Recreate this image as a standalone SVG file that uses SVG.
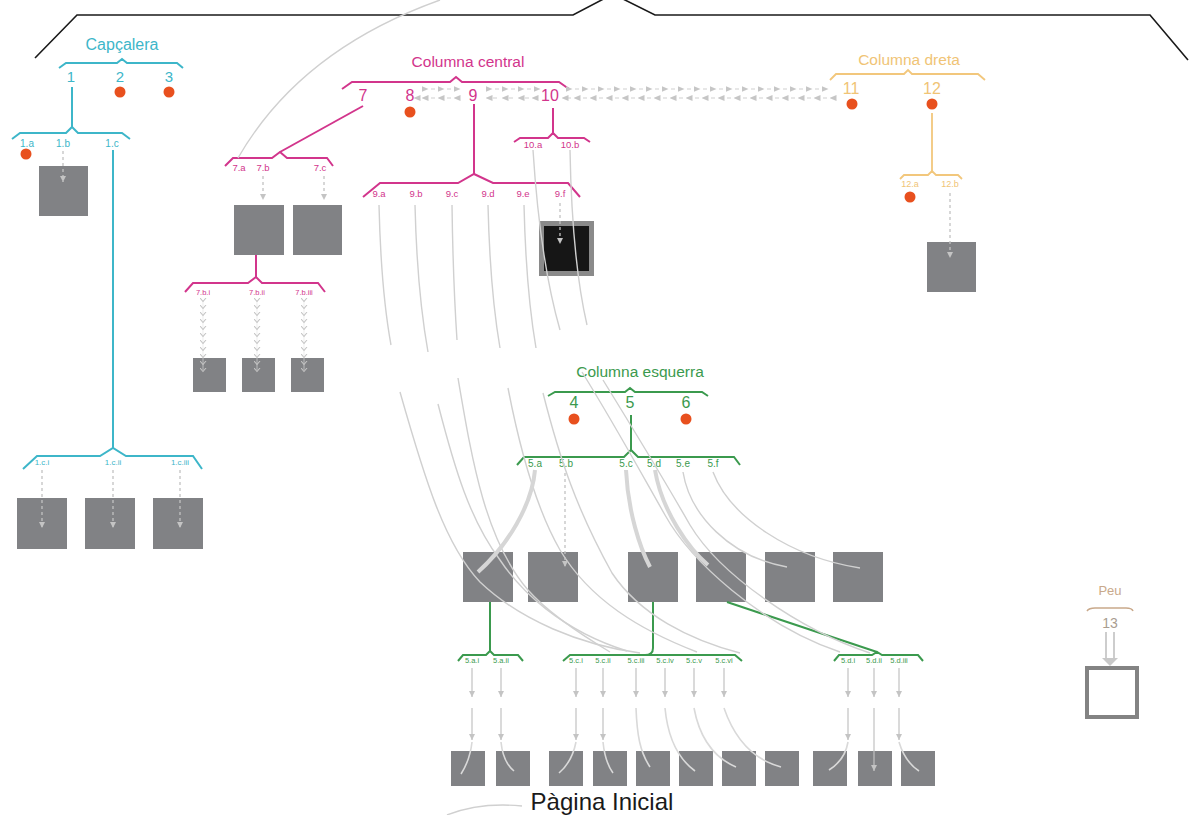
<svg xmlns="http://www.w3.org/2000/svg" width="1191" height="815" viewBox="0 0 1191 815">
<defs>
<style>
text{font-family:"Liberation Sans",Arial,sans-serif;text-anchor:middle}
.cy{fill:none;stroke:#3db6c9;stroke-width:2}
.mg{fill:none;stroke:#d2358c;stroke-width:2}
.gr{fill:none;stroke:#3b9a4e;stroke-width:2}
.yl{fill:none;stroke:#f2c77c;stroke-width:1.8}
.tcy{fill:#3db6c9}
.tmg{fill:#d2358c}
.tgr{fill:#3b9a4e}
.tyl{fill:#f0c476}
.box{fill:#818285}
.dot{fill:#e8501e}
.dash{fill:none;stroke:#c2c2c2;stroke-width:1.3;stroke-dasharray:3 3;marker-end:url(#ah)}
.arr{fill:none;stroke:#c2c2c2;stroke-width:1.2;marker-end:url(#ah)}
.cv{fill:none;stroke:#d0d0d0;stroke-width:1.4}
.cvt{fill:none;stroke:#d6d6d6;stroke-width:4}
.cvi{fill:none;stroke:#d9d9d9;stroke-width:1.6}
.row{fill:none;stroke:#cfcfcf;stroke-width:1.2;stroke-dasharray:4 12;stroke-dashoffset:-6;marker-start:url(#tri);marker-mid:url(#tri);marker-end:url(#tri)}
.chain{fill:none;stroke:#e2e2e2;stroke-width:0.6;marker-start:url(#chev);marker-mid:url(#chev);marker-end:url(#chev)}
</style>
<marker id="ah" viewBox="0 0 6 6" refX="6" refY="3" markerWidth="6" markerHeight="6" orient="auto" markerUnits="userSpaceOnUse"><path d="M0,0 L6,3 L0,6 z" fill="#c4c4c4"/></marker>
<marker id="tri" viewBox="0 0 7 6" refX="3.5" refY="3" markerWidth="7" markerHeight="6" orient="auto" markerUnits="userSpaceOnUse"><path d="M0,0 L7,3 L0,6 z" fill="#c6c6c6"/></marker>
<marker id="chev" viewBox="0 0 5 7" refX="2.5" refY="3.5" markerWidth="5" markerHeight="7" orient="auto" markerUnits="userSpaceOnUse"><path d="M0.5,0.5 L4,3.5 L0.5,6.5" fill="none" stroke="#c4c4c4" stroke-width="1.1"/></marker>
</defs>
<rect width="1191" height="815" fill="#ffffff"/>

<g id="top-bracket">
<path d="M35,58 L77,15 L573,15 L613,-6 L655,15 L1150,15 L1188,60" fill="none" stroke="#1a1a1a" stroke-width="1.6"/>
</g>

<g id="capcalera">
<text x="122" y="50" class="tcy" font-size="16">Capçalera</text>
<path class="cy" d="M59,68 L66,63 L117,63 L122,59 L127,63 L177,63 L183,68"/>
<text x="71" y="82" class="tcy" font-size="15">1</text>
<text x="120" y="82" class="tcy" font-size="15">2</text>
<text x="169" y="82" class="tcy" font-size="15">3</text>
<circle class="dot" cx="120" cy="92" r="5.5"/>
<circle class="dot" cx="169" cy="92" r="5.5"/>
<path class="cy" d="M72,87 L72,127"/>
<path class="cy" d="M12,139 L20,133 L66,133 L72,127 L78,133 L122,133 L130,139"/>
<text x="27" y="147" class="tcy" font-size="10">1.a</text>
<text x="63" y="147" class="tcy" font-size="10">1.b</text>
<text x="112" y="147" class="tcy" font-size="10">1.c</text>
<circle class="dot" cx="26" cy="154" r="5.5"/>
<rect class="box" x="39" y="166" width="49" height="50"/>
<path class="cy" d="M113,150 L113,448"/>
<path class="cy" d="M23,469 L37,456 L100,456 L113,448 L126,456 L193,456 L202,469"/>
<text x="42" y="465" class="tcy" font-size="8">1.c.i</text>
<text x="113" y="465" class="tcy" font-size="8">1.c.ii</text>
<text x="180" y="465" class="tcy" font-size="8">1.c.iii</text>
<rect class="box" x="17" y="498" width="50" height="51"/>
<rect class="box" x="85" y="498" width="50" height="51"/>
<rect class="box" x="153" y="498" width="50" height="51"/>
</g>

<g id="columna-central">
<text x="468" y="67" class="tmg" font-size="15.5">Columna central</text>
<path class="mg" d="M342,89 L352,82 L450,82 L456,77 L462,82 L559,82 L569,89"/>
<text x="363" y="101" class="tmg" font-size="16">7</text>
<text x="410" y="101" class="tmg" font-size="16">8</text>
<text x="473" y="101" class="tmg" font-size="16">9</text>
<text x="550" y="101" class="tmg" font-size="16">10</text>
<circle class="dot" cx="410" cy="112" r="5.5"/>
<path class="mg" d="M363,106 L280,152"/>
<path class="mg" d="M225,166 L233,158 L272,158 L280,152 L287,158 L327,158 L333,166"/>
<text x="239" y="171" class="tmg" font-size="9.5">7.a</text>
<text x="263" y="171" class="tmg" font-size="9.5">7.b</text>
<text x="320" y="171" class="tmg" font-size="9.5">7.c</text>
<rect class="box" x="234" y="205" width="50" height="50"/>
<rect class="box" x="293" y="205" width="49" height="50"/>
<path class="mg" d="M256,255 L256,277"/>
<path class="mg" d="M185,292 L193,283 L248,283 L256,277 L262,283 L318,283 L325,292"/>
<text x="203" y="295" class="tmg" font-size="7.5">7.b.i</text>
<text x="257" y="295" class="tmg" font-size="7.5">7.b.ii</text>
<text x="304" y="295" class="tmg" font-size="7.5">7.b.iii</text>
<rect class="box" x="193" y="358" width="33" height="34"/>
<rect class="box" x="242" y="358" width="33" height="34"/>
<rect class="box" x="291" y="358" width="33" height="34"/>
<path class="mg" d="M474,104 L474,174"/>
<path class="mg" d="M363,197 L380,183 L458,183 L474,174 L493,183 L568,183 L580,197"/>
<text x="379" y="197" class="tmg" font-size="9.5">9.a</text>
<text x="416" y="197" class="tmg" font-size="9.5">9.b</text>
<text x="452" y="197" class="tmg" font-size="9.5">9.c</text>
<text x="488" y="197" class="tmg" font-size="9.5">9.d</text>
<text x="523" y="197" class="tmg" font-size="9.5">9.e</text>
<text x="560" y="197" class="tmg" font-size="9.5">9.f</text>
<path class="mg" d="M553,108 L553,133"/>
<path class="mg" d="M514,142 L520,138 L548,138 L553,133 L558,138 L584,138 L590,142"/>
<text x="533" y="148" class="tmg" font-size="9.5">10.a</text>
<text x="570" y="148" class="tmg" font-size="9.5">10.b</text>
<rect x="539" y="221" width="55" height="55" fill="#8a8a8a"/>
<rect x="544" y="226" width="45" height="45" fill="#161616"/>
</g>

<g id="columna-dreta">
<text x="909" y="65" class="tyl" font-size="15.5">Columna dreta</text>
<path class="yl" d="M830,80 L836,74 L904,74 L908,70 L912,74 L978,74 L985,80"/>
<text x="851" y="94" class="tyl" font-size="16">11</text>
<text x="932" y="94" class="tyl" font-size="16">12</text>
<circle class="dot" cx="852" cy="104" r="5.5"/>
<circle class="dot" cx="932" cy="104" r="5.5"/>
<path class="yl" d="M932,113 L932,171"/>
<path class="yl" d="M900,179 L904,175 L928,175 L932,171 L936,175 L958,175 L962,179"/>
<text x="910" y="187" class="tyl" font-size="9">12.a</text>
<text x="950" y="187" class="tyl" font-size="9">12.b</text>
<circle class="dot" cx="910" cy="197" r="5.5"/>
<rect class="box" x="927" y="242" width="49" height="50"/>
</g>

<g id="columna-esquerra">
<text x="640" y="377" class="tgr" font-size="15.5">Columna esquerra</text>
<path class="gr" d="M548,396 L555,392 L625,392 L630,388 L635,392 L702,392 L708,396"/>
<text x="574" y="408" class="tgr" font-size="16">4</text>
<text x="630" y="408" class="tgr" font-size="16">5</text>
<text x="686" y="408" class="tgr" font-size="16">6</text>
<circle class="dot" cx="574" cy="419" r="5.5"/>
<circle class="dot" cx="686" cy="419" r="5.5"/>
<path class="gr" d="M631,415 L631,450"/>
<path class="gr" d="M517,465 L524,457 L624,457 L631,450 L638,457 L734,457 L740,465"/>
<text x="535" y="467" class="tgr" font-size="10">5.a</text>
<text x="566" y="467" class="tgr" font-size="10">5.b</text>
<text x="626" y="467" class="tgr" font-size="10">5.c</text>
<text x="654" y="467" class="tgr" font-size="10">5.d</text>
<text x="683" y="467" class="tgr" font-size="10">5.e</text>
<text x="713" y="467" class="tgr" font-size="10">5.f</text>
<rect class="box" x="463" y="552" width="50" height="50"/>
<rect class="box" x="528" y="552" width="50" height="50"/>
<rect class="box" x="628" y="552" width="50" height="50"/>
<rect class="box" x="696" y="552" width="50" height="50"/>
<rect class="box" x="765" y="552" width="50" height="50"/>
<rect class="box" x="833" y="552" width="50" height="50"/>
<path class="gr" d="M490,602 L490,651"/>
<path class="gr" d="M458,661 L463,655 L486,655 L490,651 L494,655 L518,655 L523,661"/>
<path class="gr" d="M653,602 L653,648 Q653,655 645,655"/>
<path class="gr" d="M563,661 L570,655 L735,655 L742,661"/>
<path class="gr" d="M727,602 L877,652"/>
<path class="gr" d="M834,661 L839,655 L872,655 L877,652 L882,655 L918,655 L923,661"/>
<text x="472" y="663" class="tgr" font-size="7.5">5.a.i</text>
<text x="501" y="663" class="tgr" font-size="7.5">5.a.ii</text>
<text x="576" y="663" class="tgr" font-size="7.5">5.c.i</text>
<text x="603" y="663" class="tgr" font-size="7.5">5.c.ii</text>
<text x="636" y="663" class="tgr" font-size="7.5">5.c.iii</text>
<text x="665" y="663" class="tgr" font-size="7.5">5.c.iv</text>
<text x="694" y="663" class="tgr" font-size="7.5">5.c.v</text>
<text x="724" y="663" class="tgr" font-size="7.5">5.c.vi</text>
<text x="848" y="663" class="tgr" font-size="7.5">5.d.i</text>
<text x="874" y="663" class="tgr" font-size="7.5">5.d.ii</text>
<text x="899" y="663" class="tgr" font-size="7.5">5.d.iii</text>
<rect class="box" x="451" y="751" width="34" height="35"/>
<rect class="box" x="496" y="751" width="34" height="35"/>
<rect class="box" x="549" y="751" width="34" height="35"/>
<rect class="box" x="593" y="751" width="34" height="35"/>
<rect class="box" x="636" y="751" width="34" height="35"/>
<rect class="box" x="679" y="751" width="34" height="35"/>
<rect class="box" x="722" y="751" width="34" height="35"/>
<rect class="box" x="765" y="751" width="34" height="35"/>
<rect class="box" x="813" y="751" width="34" height="35"/>
<rect class="box" x="858" y="751" width="34" height="35"/>
<rect class="box" x="901" y="751" width="34" height="35"/>
</g>

<g id="peu">
<text x="1110" y="595" fill="#c9a98b" font-size="13">Peu</text>
<path d="M1087,611 Q1089,608 1095,608 L1126,608 Q1132,608 1133,611" fill="none" stroke="#c9a98b" stroke-width="1.5"/>
<text x="1110" y="628" fill="#a99d90" font-size="14">13</text>
<rect x="1087" y="668" width="50" height="49" fill="#ffffff" stroke="#838383" stroke-width="4"/>
</g>

<g id="pagina-inicial">
<text x="602" y="810" fill="#1a1a1a" font-size="24">Pàgina Inicial</text>
</g>

<g id="connectors">
<!-- decorative grey curves -->
<path class="cv" d="M440,0 Q300,50 238,158"/>
<path class="cv" d="M379,205 Q381,290 391,345"/>
<path class="cv" d="M415,205 Q417,290 428,352"/>
<path class="cv" d="M452,205 Q453,280 457,340"/>
<path class="cv" d="M488,205 Q490,290 500,348"/>
<path class="cv" d="M524,205 Q526,290 536,348"/>
<path class="cv" d="M533,150 Q540,260 560,330"/>
<path class="cv" d="M570,150 Q572,260 587,325"/>
<path class="cv" d="M400,392 C425,480 445,545 480,582 C520,620 580,645 640,653"/>
<path class="cv" d="M438,404 C455,470 470,520 500,560 C520,590 560,630 627,651"/>
<path class="cv" d="M458,378 C472,460 485,540 528,590 C550,615 590,640 610,652"/>
<path class="cv" d="M508,388 C520,450 537,510 560,550 C590,600 640,630 697,652"/>
<path class="cv" d="M543,393 C560,460 577,510 612,573 C640,615 690,640 740,653"/>
<path class="cv" d="M582,372 C615,425 645,480 665,515 C690,560 760,625 840,652"/>
<path class="cv" d="M603,380 C640,440 670,490 690,525 C720,575 800,630 870,653"/>
<path class="cvt" d="M535,470 C532,505 508,545 478,572"/>
<path class="cvt" d="M626,470 C628,512 640,548 650,567"/>
<path class="cvt" d="M655,470 C662,512 690,550 708,565"/>
<path class="cv" d="M683,472 C690,515 730,557 787,567"/>
<path class="cv" d="M713,472 C730,517 790,557 860,568"/>
<path class="cv" d="M447,815 Q480,802 522,806" stroke-width="2.5"/>

<!-- dashed arrows -->
<path class="dash" d="M63,151 L63,182"/>
<path class="dash" d="M42,470 L42,528"/>
<path class="dash" d="M113,470 L113,528"/>
<path class="dash" d="M180,470 L180,528"/>
<path class="dash" d="M263,176 L263,200"/>
<path class="dash" d="M324,176 L324,200"/>
<path class="dash" d="M560,203 L560,244"/>
<path class="dash" d="M950,193 L950,258"/>
<path class="dash" d="M565,473 L565,567"/>

<!-- chevron chains -->
<polyline class="chain" points="203,300 203,307 203,314 203,321 203,328 203,335 203,342 203,349 203,356 203,363 203,370"/>
<polyline class="chain" points="257,300 257,307 257,314 257,321 257,328 257,335 257,342 257,349 257,356 257,363 257,370"/>
<polyline class="chain" points="304,300 304,307 304,314 304,321 304,328 304,335 304,342 304,349 304,356 304,363 304,370"/>

<!-- bidirectional rows 8 <-> 11 -->
<polyline class="row" points="425,89 441,89 457,89"/>
<polyline class="row" points="489,89 505,89 521,89 537,89"/>
<polyline class="row" points="569,89 585,89 601,89 617,89 633,89 649,89 665,89 681,89 697,89 713,89 729,89 745,89 761,89 777,89 793,89 809,89 825,89"/>
<polyline class="row" points="833,98 817,98 801,98 785,98 769,98 753,98 737,98 721,98 705,98 689,98 673,98 657,98 641,98 625,98 609,98 593,98 577,98 565,98"/>
<polyline class="row" points="535,98 521,98 505,98 489,98"/>
<polyline class="row" points="457,98 441,98 425,98 417,98"/>

<!-- bottom arrows -->
<path class="arr" d="M472,668 L472,697"/><path class="arr" d="M472,708 L472,740"/>
<path class="arr" d="M501,668 L501,697"/><path class="arr" d="M501,708 L501,740"/>
<path class="arr" d="M576,668 L576,697"/><path class="arr" d="M576,708 L576,740"/>
<path class="arr" d="M603,668 L603,697"/><path class="arr" d="M603,708 L603,740"/>
<path class="arr" d="M636,668 L636,697"/>
<path class="arr" d="M665,668 L665,697"/>
<path class="arr" d="M694,668 L694,697"/>
<path class="arr" d="M724,668 L724,697"/>
<path class="arr" d="M848,668 L848,697"/><path class="arr" d="M848,708 L848,740"/>
<path class="arr" d="M874,668 L874,697"/><path class="arr" d="M874,708 L874,771"/>
<path class="arr" d="M899,668 L899,697"/><path class="arr" d="M899,708 L899,740"/>

<!-- curves ending inside bottom boxes -->
<path class="cvi" d="M472,742 Q470,760 461,774"/>
<path class="cvi" d="M501,742 Q503,762 514,771"/>
<path class="cvi" d="M576,742 Q572,762 559,773"/>
<path class="cvi" d="M603,742 Q605,762 613,773"/>
<path class="cvi" d="M636,708 C637,735 640,752 650,767"/>
<path class="cvi" d="M665,708 C668,740 680,760 695,771"/>
<path class="cvi" d="M694,708 C700,740 715,758 736,767"/>
<path class="cvi" d="M724,708 C735,740 755,760 781,767"/>
<path class="cvi" d="M848,742 Q845,760 829,770"/>
<path class="cvi" d="M899,742 Q905,762 919,771"/>

<!-- Peu arrow -->
<path d="M1106,632 L1106,660 M1114,632 L1114,660" stroke="#c8c8c8" stroke-width="1.8" fill="none"/>
<polygon points="1102,658 1118,658 1110,666" fill="#c8c8c8"/>
</g>
</svg>
